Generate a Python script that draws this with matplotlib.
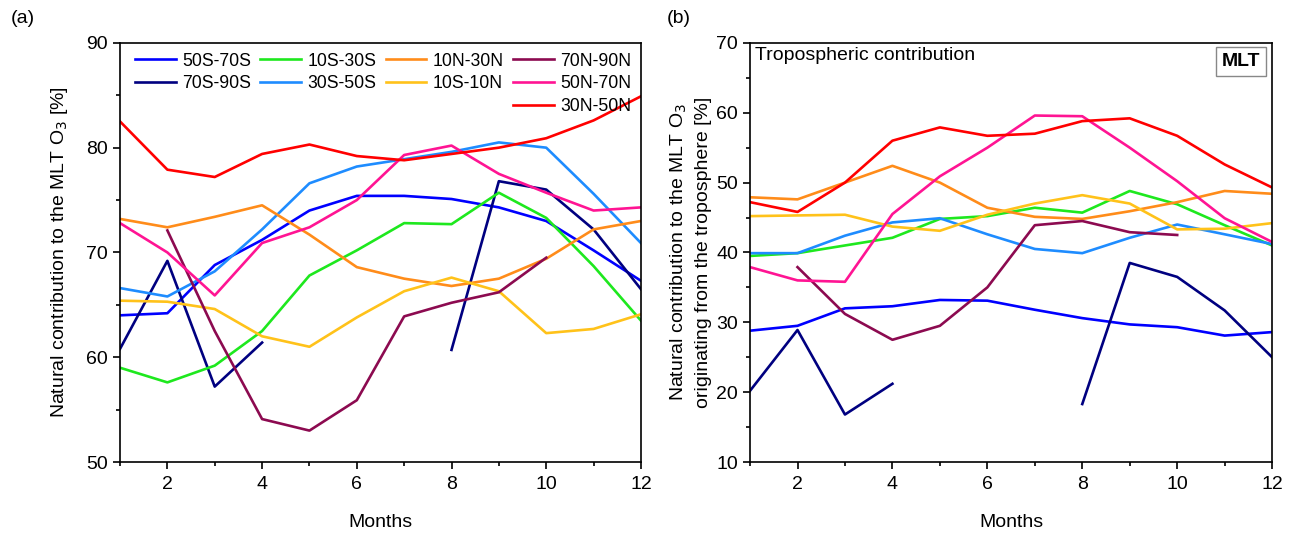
import matplotlib
matplotlib.use("Agg")
import matplotlib.pyplot as plt
from matplotlib.lines import Line2D
from matplotlib.ticker import MultipleLocator
import numpy as np

plt.rcParams['font.family'] = ['Liberation Sans', 'DejaVu Sans']

months = np.arange(1, 13)
nan = np.nan

regions = ['50S-70S', '70S-90S', '10S-30S', '30S-50S', '10N-30N',
           '10S-10N', '70N-90N', '50N-70N', '30N-50N']
colors = ['#0000ff', '#000080', '#1ee81e', '#1e8cff', '#ff8c1a',
          '#ffc21a', '#8c0a50', '#ff1493', '#ff0000']

# (a) natural contribution to MLT O3 [%]
mlt_a = {
    '50S-70S': [64.0, 64.2, 68.8, 71.2, 74.0, 75.4, 75.4, 75.1, 74.3, 73.0, 70.2, 67.3],
    '70S-90S': [60.8, 69.2, 57.2, 61.4, nan, nan, nan, 60.7, 76.8, 76.0, 72.2, 66.5],
    '10S-30S': [59.0, 57.6, 59.2, 62.5, 67.8, 70.2, 72.8, 72.7, 75.7, 73.3, 68.7, 63.5],
    '30S-50S': [66.6, 65.8, 68.2, 72.2, 76.6, 78.2, 78.9, 79.6, 80.5, 80.0, 75.6, 70.9],
    '10N-30N': [73.2, 72.4, 73.4, 74.5, 71.7, 68.6, 67.5, 66.8, 67.5, 69.4, 72.2, 73.0],
    '10S-10N': [65.4, 65.3, 64.6, 62.0, 61.0, 63.8, 66.3, 67.6, 66.3, 62.3, 62.7, 64.1],
    '70N-90N': [nan, 72.1, 62.5, 54.1, 53.0, 55.9, 63.9, 65.2, 66.2, 69.5, nan, nan],
    '50N-70N': [72.8, 70.0, 65.9, 70.9, 72.4, 75.0, 79.3, 80.2, 77.5, 75.7, 74.0, 74.3],
    '30N-50N': [82.5, 77.9, 77.2, 79.4, 80.3, 79.2, 78.8, 79.4, 80.0, 80.9, 82.6, 84.9],
}

# (b) part originating from the troposphere [%]
mlt_b = {
    '50S-70S': [28.8, 29.5, 32.0, 32.3, 33.2, 33.1, 31.8, 30.6, 29.7, 29.3, 28.1, 28.6],
    '70S-90S': [20.2, 28.9, 16.8, 21.2, nan, nan, nan, 18.3, 38.5, 36.5, 31.7, 25.0],
    '10S-30S': [39.5, 39.9, 41.0, 42.1, 44.8, 45.2, 46.4, 45.7, 48.8, 46.9, 43.9, 41.0],
    '30S-50S': [39.9, 39.9, 42.4, 44.3, 44.9, 42.6, 40.5, 39.9, 42.1, 44.0, 42.6, 41.2],
    '10N-30N': [47.9, 47.6, 50.0, 52.4, 50.0, 46.4, 45.1, 44.8, 45.9, 47.2, 48.8, 48.4],
    '10S-10N': [45.2, 45.3, 45.4, 43.7, 43.1, 45.4, 47.0, 48.2, 47.0, 43.3, 43.4, 44.2],
    '70N-90N': [nan, 37.9, 31.2, 27.5, 29.5, 35.0, 43.9, 44.5, 42.9, 42.5, nan, nan],
    '50N-70N': [37.9, 36.0, 35.8, 45.5, 50.9, 55.0, 59.6, 59.5, 55.0, 50.2, 44.9, 41.5],
    '30N-50N': [47.2, 45.8, 50.0, 56.0, 57.9, 56.7, 57.0, 58.8, 59.2, 56.7, 52.6, 49.3],
}

fig = plt.figure(figsize=(12.99, 5.36), dpi=100)
ax1 = fig.add_axes([0.0924, 0.138, 0.401, 0.782])
ax2 = fig.add_axes([0.5774, 0.138, 0.4019, 0.782])

for ax, data in [(ax1, mlt_a), (ax2, mlt_b)]:
    for reg, col in zip(regions, colors):
        ax.plot(months, data[reg], color=col, lw=1.9, label=reg)
    ax.set_xlim(1, 12)
    ax.xaxis.set_major_locator(MultipleLocator(2))
    ax.xaxis.set_minor_locator(MultipleLocator(1))
    ax.yaxis.set_major_locator(MultipleLocator(10))
    ax.yaxis.set_minor_locator(MultipleLocator(5))
    ax.tick_params(which='both', direction='out', labelsize=14, width=1.2)
    ax.tick_params(which='major', length=5)
    ax.tick_params(which='minor', length=3)
    ax.tick_params(axis='x', pad=5)
    for s in ax.spines.values():
        s.set_linewidth(1.2)
    ax.set_xlabel('Months', fontsize=14, labelpad=15)

ax1.set_ylim(50, 90)
ax2.set_ylim(10, 70)
ax1.set_ylabel('Natural contribution to the MLT O$_3$ [%]', fontsize=14, labelpad=12)
ax2.set_ylabel('Natural contribution to the MLT O$_3$\noriginating from the troposphere [%]',
               fontsize=14, labelpad=3, linespacing=1.5)

# legend: last column holds three entries
h, l = ax1.get_legend_handles_labels()
blank = Line2D([], [], color='none')
order_h = [h[0], h[1], blank, h[2], h[3], blank, h[4], h[5], blank, h[6], h[7], h[8]]
order_l = [l[0], l[1], '', l[2], l[3], '', l[4], l[5], '', l[6], l[7], l[8]]
ax1.legend(order_h, order_l, ncol=4, loc='upper right', frameon=False, fontsize=12.7,
           handlelength=2.3, handletextpad=0.35, columnspacing=0.55, labelspacing=0.33,
           borderaxespad=0.15, bbox_to_anchor=(1.0, 1.0))

ax2.text(0.01, 0.99, 'Tropospheric contribution', transform=ax2.transAxes,
         fontsize=14, va='top', ha='left')
ax2.text(0.977, 0.956, 'MLT', transform=ax2.transAxes, fontsize=14, fontweight='bold',
         va='center', ha='right',
         bbox=dict(boxstyle='square,pad=0.3', facecolor='white', edgecolor='#888888', lw=1))

fig.text(0.008, 0.965, '(a)', fontsize=14, va='center')
fig.text(0.513, 0.965, '(b)', fontsize=14, va='center')

fig.savefig('out.png', dpi=100)
